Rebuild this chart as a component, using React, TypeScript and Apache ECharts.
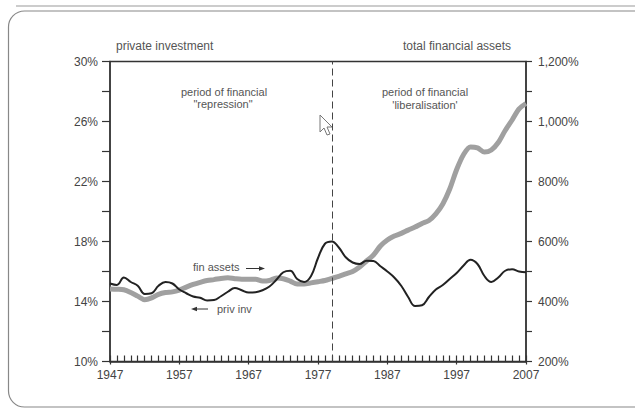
import React, { useEffect, useRef } from "react";
import * as echarts from "echarts";

const years: number[] = [];
for (let y = 1947; y <= 2007; y++) years.push(y);

const privInv = [
  15.2, 15.1, 15.6, 15.3, 15.05, 14.5, 14.55, 15.05, 15.3, 15.2,
  14.8, 14.55, 14.33, 14.25, 14.07, 14.1, 14.35, 14.65, 14.9, 14.75,
  14.6, 14.62, 14.75, 15.0, 15.45, 15.95, 16.05, 15.5, 15.3, 15.7,
  16.9, 17.85, 18.0, 17.6, 16.95, 16.6, 16.5, 16.72, 16.7, 16.35,
  16.0, 15.6, 15.05, 14.3, 13.7, 13.75, 14.3, 14.8, 15.1, 15.5,
  15.9, 16.4, 16.78, 16.5, 15.7, 15.3, 15.6, 16.05, 16.15, 16.0,
  15.95,
];

const finAssets = [
  442, 441, 439, 430, 418, 406, 412, 424, 430, 432,
  438, 448, 457, 464, 470, 473, 477, 479, 476, 474,
  474, 474, 468, 470, 478, 476, 468, 458, 458, 462,
  466, 470, 477, 484, 492, 500, 515, 535, 555, 585,
  605, 618, 627, 638, 648, 660, 670, 692, 725, 775,
  840, 890, 915, 912, 898, 905, 930, 970, 1005, 1042,
  1060,
];

const breakYear = 1979;
const leftTitle = "private investment";
const rightTitle = "total financial assets";

export default function App() {
  const ref = useRef<HTMLDivElement>(null);
  useEffect(() => {
    if (!ref.current) return;
    const chart = echarts.init(ref.current, undefined, { renderer: "svg" });
    const font = "'Liberation Sans', Arial, sans-serif";
    const txt = "#555";
    const axisCol = "#333";
    const cursorPts = [
      [320, 115], [320, 132], [324, 128], [327, 135], [330, 134], [327, 127], [332, 127],
    ];
    chart.setOption({
      animation: false,
      backgroundColor: "#fff",
      grid: {
        left: 110, right: 109, top: 61.5, bottom: 47.5,
        show: true, borderColor: axisCol, borderWidth: 1.3, backgroundColor: "transparent",
      },
      xAxis: [
        {
          type: "value", min: 1947, max: 2007, interval: 10,
          axisLine: { show: true, lineStyle: { color: axisCol, width: 1.5 } },
          axisTick: { show: true, inside: true, length: 6, lineStyle: { color: axisCol, width: 1.2 } },
          minorTick: { show: true, splitNumber: 10, length: 6, lineStyle: { color: axisCol, width: 1.2 } },
          splitLine: { show: false },
          axisLabel: { color: "#444", fontSize: 12, fontFamily: font, margin: 7, formatter: (v: number) => String(v) },
        },
        {
          type: "value", min: 1947, max: 2007, interval: 10, position: "bottom",
          axisLine: { show: false },
          axisTick: { show: true, inside: false, length: 3, lineStyle: { color: axisCol, width: 1.2 } },
          splitLine: { show: false },
          axisLabel: { show: false },
        },
      ],
      yAxis: [
        {
          type: "value", min: 10, max: 30, interval: 2, position: "left",
          axisLine: { show: true, lineStyle: { color: axisCol, width: 1.5 } },
          axisTick: { show: true, length: 8, lineStyle: { color: axisCol, width: 1.2 } },
          splitLine: { show: false },
          axisLabel: {
            color: "#444", fontSize: 12, fontFamily: font, margin: 12,
            formatter: (v: number) => ((v - 10) % 4 === 0 ? v + "%" : ""),
          },
        },
        {
          type: "value", min: 200, max: 1200, interval: 100, position: "right",
          axisLine: { show: true, lineStyle: { color: axisCol, width: 1.5 } },
          axisTick: { show: true, length: 6, lineStyle: { color: axisCol, width: 1.2 } },
          splitLine: { show: false },
          axisLabel: {
            color: "#444", fontSize: 12, fontFamily: font, margin: 12,
            formatter: (v: number) => ((v - 200) % 200 === 0 ? v.toLocaleString("en-US") + "%" : ""),
          },
        },
      ],
      series: [
        {
          name: "fin assets", type: "line", xAxisIndex: 0, yAxisIndex: 1,
          data: years.map((y, i) => [y, finAssets[i]]),
          showSymbol: false, smooth: 0.3,
          lineStyle: { color: "#a0a0a0", width: 5 },
          z: 2,
        },
        {
          name: "priv inv", type: "line", xAxisIndex: 0, yAxisIndex: 0,
          data: years.map((y, i) => [y, privInv[i]]),
          showSymbol: false, smooth: 0.4,
          lineStyle: { color: "#222", width: 2 },
          z: 3,
          markLine: {
            silent: true, symbol: ["none", "none"], label: { show: false },
            lineStyle: { color: "#444", type: [7, 4], width: 1 },
            data: [{ xAxis: breakYear }],
          },
        },
      ],
      graphic: [
        { type: "line", shape: { x1: 16, y1: 6, x2: 635, y2: 6 }, style: { stroke: "#999", lineWidth: 1.2 } },
        {
          type: "rect", shape: { x: 8.5, y: 11, width: 700, height: 396, r: 16 },
          style: { fill: "none", stroke: "#888", lineWidth: 1.2 },
        },
        { type: "text", x: 116, y: 46, style: { text: leftTitle, fill: txt, font: `12px ${font}`, textVerticalAlign: "middle" } },
        { type: "text", x: 403, y: 46, style: { text: rightTitle, fill: txt, font: `12px ${font}`, textVerticalAlign: "middle" } },
        { type: "text", x: 224, y: 92, style: { text: "period of financial", fill: txt, font: `11px ${font}`, textAlign: "center", textVerticalAlign: "middle" } },
        { type: "text", x: 223, y: 103.5, style: { text: "\"repression\"", fill: txt, font: `11px ${font}`, textAlign: "center", textVerticalAlign: "middle" } },
        { type: "text", x: 425, y: 92, style: { text: "period of financial", fill: txt, font: `11px ${font}`, textAlign: "center", textVerticalAlign: "middle" } },
        { type: "text", x: 425, y: 105, style: { text: "'liberalisation'", fill: txt, font: `11px ${font}`, textAlign: "center", textVerticalAlign: "middle" } },
        { type: "text", x: 193, y: 267, style: { text: "fin assets", fill: txt, font: `11px ${font}`, textVerticalAlign: "middle" } },
        { type: "line", shape: { x1: 246, y1: 268.5, x2: 262, y2: 268.5 }, style: { stroke: "#333", lineWidth: 1 } },
        { type: "polygon", shape: { points: [[265, 268.5], [259, 266.3], [259, 270.7]] }, style: { fill: "#333" } },
        { type: "line", shape: { x1: 194, y1: 309, x2: 208, y2: 309 }, style: { stroke: "#333", lineWidth: 1 } },
        { type: "polygon", shape: { points: [[191, 309], [197, 306.8], [197, 311.2]] }, style: { fill: "#333" } },
        { type: "text", x: 217, y: 309, style: { text: "priv inv", fill: txt, font: `11px ${font}`, textVerticalAlign: "middle" } },
        { type: "polygon", shape: { points: cursorPts }, style: { fill: "#fff", stroke: "#777", lineWidth: 1 }, z: 100 },
      ],
    });
    return () => chart.dispose();
  }, []);
  return <div ref={ref} style={{ width: 635, height: 409, position: "absolute", left: 0, top: 0 }} />;
}
